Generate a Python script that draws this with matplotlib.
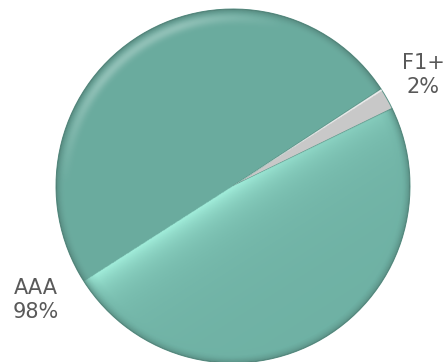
import numpy as np
import matplotlib

matplotlib.use("Agg")
import matplotlib.pyplot as plt

categories = ["AAA", "F1+"]
shares = [98, 2]
label_texts = ["AAA\n98%", "F1+\n2%"]

W, H = 448, 362
fig = plt.figure(figsize=(W / 100, H / 100), dpi=100)
fig.patch.set_facecolor("white")

cx, cy, r = 233, 186, 177
ax = fig.add_axes([(cx - r) / W, (H - cy - r) / H, 2 * r / W, 2 * r / H])
ax.set_axis_off()

wedges, _ = ax.pie(
    shares,
    colors=["#6eb0a3", "#c8c8c8"],
    startangle=33.2,
    counterclock=True,
    radius=1.0,
    wedgeprops={"edgecolor": "#5b9488", "linewidth": 0.7},
)
ax.set_xlim(-1.0, 1.0)
ax.set_ylim(-1.0, 1.0)
ax.set_aspect("equal")

# sheen overlay, oriented along the small slice
n = 600
xs = np.linspace(-1, 1, n)
X, Y = np.meshgrid(xs, xs[::-1])
R = np.hypot(X, Y)
a = np.deg2rad(wedges[1].theta2 - 0.6)
d = X * np.sin(a) - Y * np.cos(a)
lower = d > 0

shade = np.zeros((n, n, 4))
glow = np.where(lower, 0.7 * np.exp(-d / 0.1) + 0.15 * np.exp(-d / 0.5), 0.0)
glow *= np.clip((1.0 - R) / 0.08, 0, 1) ** 0.5
shade[..., 0] = 172 / 255
shade[..., 1] = 250 / 255
shade[..., 2] = 230 / 255
shade[..., 3] = glow
img = ax.imshow(shade, extent=(-1, 1, -1, 1), zorder=3, interpolation="bilinear")
img.set_clip_path(wedges[0])

# slightly darker upper half and a thin dark rim
dark = np.zeros((n, n, 4))
rim = np.clip((R - 0.95) / 0.05, 0, 1) ** 2
dark[..., 3] = np.where(lower, 0.0, 0.03) + 0.18 * rim
img2 = ax.imshow(dark, extent=(-1, 1, -1, 1), zorder=3, interpolation="bilinear")
img2.set_clip_path(wedges[0])

# soft highlight band near the top rim
top = np.zeros((n, n, 4))
top[..., :3] = 1.0
band = np.exp(-((R - 0.95) / 0.03) ** 2) * np.clip(Y / 0.6, 0, 1) * np.clip((0.3 - X) / 0.6, 0, 1)
top[..., 3] = 0.25 * band
img3 = ax.imshow(top, extent=(-1, 1, -1, 1), zorder=3, interpolation="bilinear")
img3.set_clip_path(wedges[0])

# highlight on the small slice
gray = np.zeros((n, n, 4))
gray[..., :3] = 1.0
gray[..., 3] = np.where(d < 0, 0.8 * np.exp(d / 0.03), 0.0)
img4 = ax.imshow(gray, extent=(-1, 1, -1, 1), zorder=3, interpolation="bilinear")
img4.set_clip_path(wedges[1])

fig.text(36 / W, 1 - 300 / H, label_texts[0], ha="center", va="center",
         multialignment="center", fontsize=15, color="#595959", linespacing=1.2)
fig.text(423 / W, 1 - 75 / H, label_texts[1], ha="center", va="center",
         multialignment="center", fontsize=15, color="#595959", linespacing=1.2)

fig.savefig("out.png", dpi=100, facecolor="white")
plt.close(fig)
